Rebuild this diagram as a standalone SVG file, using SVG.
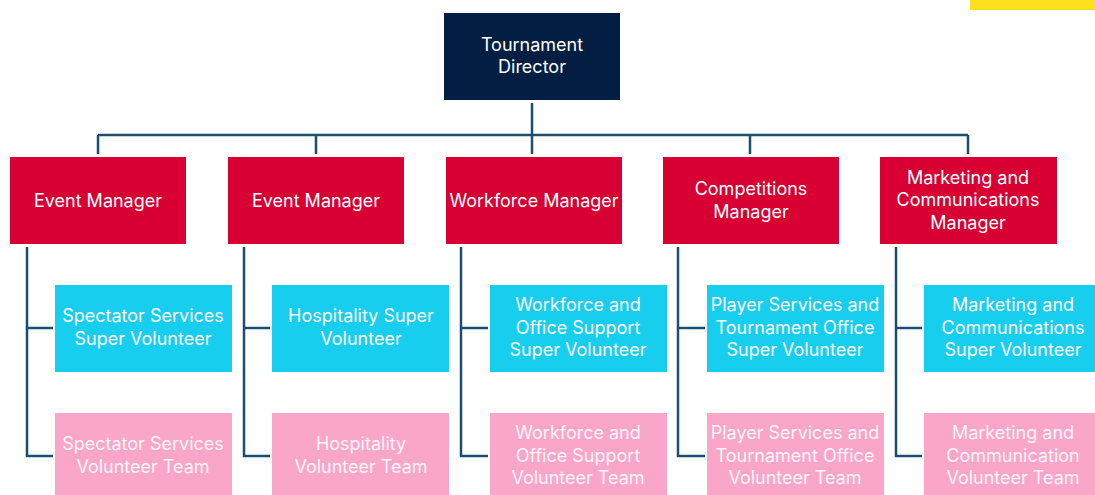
<svg xmlns="http://www.w3.org/2000/svg" width="1095" height="495" viewBox="0 0 1095 495">
<style>
text{font-family:Inter,"Open Sans","Liberation Sans",sans-serif;font-size:18px;fill:#ffffff;text-anchor:middle}
.dir{fill:#021E42}
.mgr{fill:#D80032}
.sup{fill:#17CEEE}
.team{fill:#F9A6C9}
.team-t{fill:#FFF4F8}
.conn{fill:none;stroke:#1C4F6E;stroke-width:2.5}
</style>
<rect x="970" y="0" width="125" height="10" fill="#FFE01B"/>
<g id="connectors" class="conn">
<path d="M532 103V154M98 135H968M98 135V154M316 135V154M750 135V154M968 135V154"/>
<path d="M27 247V456H53M27 328H53"/>
<path d="M244 247V456H270M244 328H270"/>
<path d="M461 247V456H488M461 328H488"/>
<path d="M678 247V456H705M678 328H705"/>
<path d="M896 247V456H922M896 328H922"/>
</g>
<g id="director"><rect class="dir" x="444" y="13" width="176" height="87"/><text x="532" y="50.5">Tournament</text><text x="532" y="73">Director</text></g>
<g id="mgr1"><rect class="mgr" x="10" y="157" width="176" height="87"/><text x="98" y="206.5">Event Manager</text></g>
<g id="mgr2"><rect class="mgr" x="228" y="157" width="176" height="87"/><text x="316" y="206.5">Event Manager</text></g>
<g id="mgr3"><rect class="mgr" x="446" y="157" width="176" height="87"/><text x="534" y="206.5">Workforce Manager</text></g>
<g id="mgr4"><rect class="mgr" x="663" y="157" width="176" height="87"/><text x="751" y="195">Competitions</text><text x="751" y="217.5">Manager</text></g>
<g id="mgr5"><rect class="mgr" x="880" y="157" width="177" height="87"/><text x="968" y="183.5">Marketing and</text><text x="968" y="206">Communications</text><text x="968" y="228.5">Manager</text></g>
<g id="sup1"><rect class="sup" x="55" y="285" width="177" height="87"/><text x="143" y="322">Spectator Services</text><text x="143" y="344.5">Super Volunteer</text></g>
<g id="sup2"><rect class="sup" x="272" y="285" width="177" height="87"/><text x="361" y="322">Hospitality Super</text><text x="361" y="344.5">Volunteer</text></g>
<g id="sup3"><rect class="sup" x="490" y="285" width="177" height="87"/><text x="578" y="311">Workforce and</text><text x="578" y="333.5">Office Support</text><text x="578" y="356">Super Volunteer</text></g>
<g id="sup4"><rect class="sup" x="707" y="285" width="177" height="87"/><text x="795" y="311">Player Services and</text><text x="795" y="333.5">Tournament Office</text><text x="795" y="356">Super Volunteer</text></g>
<g id="sup5"><rect class="sup" x="924" y="285" width="177" height="87"/><text x="1013" y="311">Marketing and</text><text x="1013" y="333.5">Communications</text><text x="1013" y="356">Super Volunteer</text></g>
<g id="team1"><rect class="team" x="55" y="413" width="177" height="87"/><text class="team-t" x="143" y="450">Spectator Services</text><text class="team-t" x="143" y="472.5">Volunteer Team</text></g>
<g id="team2"><rect class="team" x="272" y="413" width="177" height="87"/><text class="team-t" x="361" y="450">Hospitality</text><text class="team-t" x="361" y="472.5">Volunteer Team</text></g>
<g id="team3"><rect class="team" x="490" y="413" width="177" height="87"/><text class="team-t" x="578" y="439">Workforce and</text><text class="team-t" x="578" y="461.5">Office Support</text><text class="team-t" x="578" y="484">Volunteer Team</text></g>
<g id="team4"><rect class="team" x="707" y="413" width="177" height="87"/><text class="team-t" x="795" y="439">Player Services and</text><text class="team-t" x="795" y="461.5">Tournament Office</text><text class="team-t" x="795" y="484">Volunteer Team</text></g>
<g id="team5"><rect class="team" x="924" y="413" width="177" height="87"/><text class="team-t" x="1013" y="439">Marketing and</text><text class="team-t" x="1013" y="461.5">Communication</text><text class="team-t" x="1013" y="484">Volunteer Team</text></g>
</svg>
